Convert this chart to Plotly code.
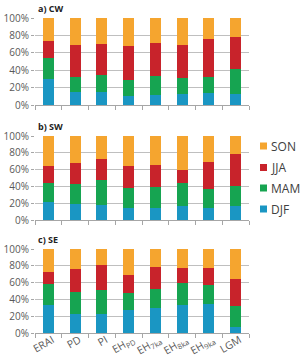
import plotly.graph_objects as go

categories = ["ERAI", "PD", "PI", "EH<sub>PD</sub>", "EH<sub>7ka</sub>", "EH<sub>8ka</sub>", "EH<sub>9ka</sub>", "LGM"]
seasons = ["DJF", "MAM", "JJA", "SON"]
legend_order = ["SON", "JJA", "MAM", "DJF"]
colors = {"DJF": "#1A96C3", "MAM": "#16A451", "JJA": "#C8232B", "SON": "#F5A52F"}

# cumulative tops (DJF, DJF+MAM, DJF+MAM+JJA) in %
cw_cum = {
    "DJF": [30, 14.6, 15.4, 9.8, 11, 12.7, 14, 13],
    "MAM": [54.6, 32, 34.6, 29, 33, 31, 32, 41],
    "JJA": [74, 68.5, 69.6, 68, 71.5, 69, 76, 78],
}
sw_cum = {
    "DJF": [21, 18.7, 17.9, 13.9, 14.7, 17, 14.7, 16.3],
    "MAM": [44, 42.5, 47.2, 38.5, 39.7, 44.4, 36.9, 40.9],
    "JJA": [64.7, 67.9, 73, 64.7, 65.5, 59, 68.7, 78],
}
se_cum = {
    "DJF": [33.7, 23, 22.2, 27.4, 29.8, 32.9, 34.1, 7.5],
    "MAM": [58.7, 48.4, 51.2, 47.6, 52.8, 59.1, 56.7, 31.7],
    "JJA": [72.2, 76.6, 81.3, 68.6, 78.6, 77.8, 77, 64.3],
}
panels = [("a) CW", cw_cum), ("b) SW", sw_cum), ("c) SE", se_cum)]


def shares(cum):
    d = cum["DJF"]
    m = [b - a for a, b in zip(cum["DJF"], cum["MAM"])]
    j = [b - a for a, b in zip(cum["MAM"], cum["JJA"])]
    s = [100 - a for a in cum["JJA"]]
    return {"DJF": d, "MAM": m, "JJA": j, "SON": s}


fig = go.Figure()
W, H = 303, 357
left_m, right_m = 35, 54
top_m, bot_m = 18, 24
pw = W - left_m - right_m
ph = H - top_m - bot_m
pix = [(18, 105), (136, 220), (249, 333)]
domains = [[1 - (b - top_m) / ph, 1 - (t - top_m) / ph] for t, b in pix]


def px_x(x):
    return (x - left_m) / pw


def px_y(y):
    return 1 - (y - top_m) / ph


for i, (title, cum) in enumerate(panels):
    vals = shares(cum)
    ax = "" if i == 0 else str(i + 1)
    for s in seasons:
        fig.add_trace(go.Bar(
            x=categories, y=vals[s], name=s,
            marker=dict(color=colors[s], line=dict(width=0)),
            xaxis="x" + ax, yaxis="y" + ax,
            showlegend=False,
        ))
    fig.add_annotation(text="<b>" + title + "</b>", xref="paper", yref="paper",
                       x=0.003, y=domains[i][1], xanchor="left", yanchor="bottom",
                       yshift=1, showarrow=False,
                       font=dict(size=9, color="#222222", family="Open Sans"))

# manual legend (squares + text)
legend_y = [146, 167.5, 188, 209]
for s, yc in zip(legend_order, legend_y):
    fig.add_shape(type="rect", xref="paper", yref="paper",
                  x0=px_x(260), x1=px_x(267), y0=px_y(yc + 3.5), y1=px_y(yc - 3.5),
                  fillcolor=colors[s], line=dict(width=0))
    fig.add_annotation(text=s, xref="paper", yref="paper", x=px_x(269), y=px_y(yc),
                       xanchor="left", yanchor="middle", showarrow=False,
                       font=dict(size=12, color="#404040", family="Open Sans"))

tickfont = dict(size=10, color="#595959", family="Open Sans")
for i in range(3):
    ax = "" if i == 0 else str(i + 1)
    fig.update_layout(**{
        "xaxis" + ax: dict(domain=[0, 1], anchor="y" + ax, showticklabels=(i == 2),
                           tickangle=-30, tickfont=dict(size=10.5, color="#595959", family="Open Sans"),
                           ticks="outside", tickson="boundaries", ticklen=4, tickcolor="#A6A6A6",
                           ticklabelstandoff=-4, ticklabelshift=4,
                           showline=True, linecolor="#A6A6A6", linewidth=1, showgrid=False,
                           automargin=False, matches="x" if i else None),
        "yaxis" + ax: dict(domain=domains[i], anchor="x" + ax, range=[0, 100],
                           tickvals=[0, 20, 40, 60, 80, 100],
                           ticktext=["0%", "20%", "40%", "60%", "80%", "100%"],
                           tickfont=tickfont, ticks="outside", ticklen=3, tickcolor="#A6A6A6",
                           showgrid=True, gridcolor="#BFBFBF", gridwidth=1,
                           zeroline=False, showline=False, automargin=False),
    })

fig.update_layout(
    width=W, height=H,
    margin=dict(l=left_m, r=right_m, t=top_m, b=bot_m),
    barmode="stack", bargap=0.59,
    plot_bgcolor="white", paper_bgcolor="white",
    showlegend=False,
)

fig.write_html("out.html")
